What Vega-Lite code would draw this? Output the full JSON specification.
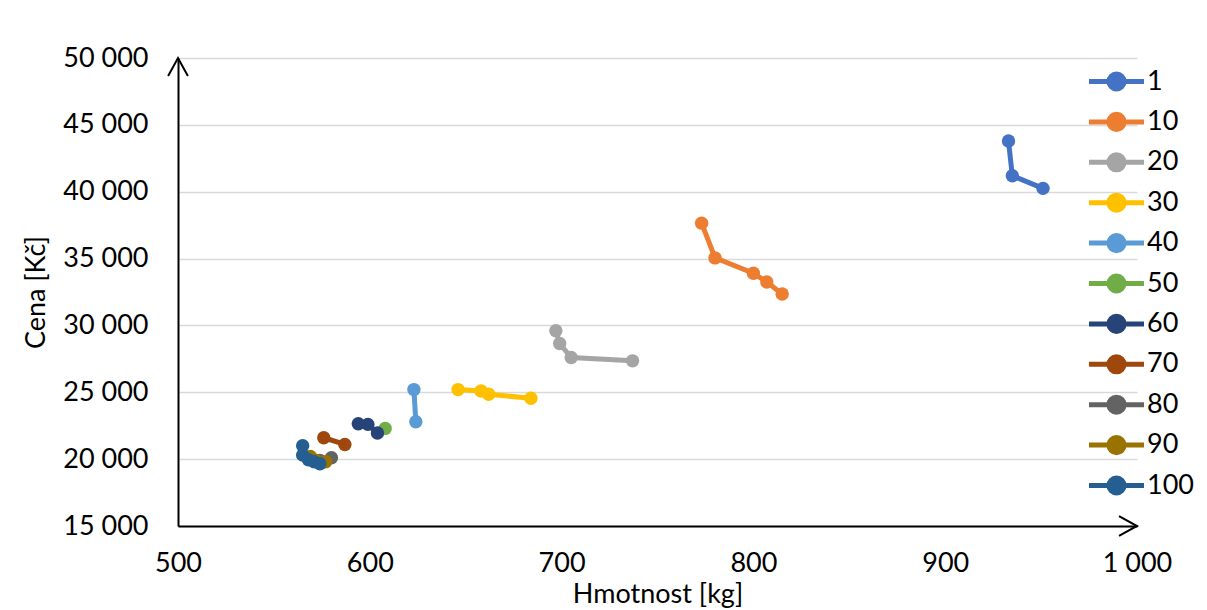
{
  "$schema": "https://vega.github.io/schema/vega-lite/v6.json",
  "width": 959,
  "height": 468,
  "autosize": "none",
  "padding": {"left": 178, "top": 58, "right": 70, "bottom": 84},
  "background": "white",
  "config": {
    "locale": {"number": {"decimal": ",", "thousands": " ", "grouping": [3], "currency": ["", " Kč"]}},
    "font": "Lato",
    "view": {"stroke": null},
    "axis": {"labelFont": "Lato", "titleFont": "Lato", "labelColor": "#000000", "titleColor": "#000000", "titleFontWeight": "normal", "labelFontSize": 27, "titleFontSize": 27, "ticks": false, "labelFlush": false, "labelOverlap": false},
    "legend": {"labelFont": "Lato", "labelFontSize": 27, "labelColor": "#000000"}
  },
  "datasets": {
    "pts": [
      {"s": "1", "i": 1, "kg": 933, "cena": 43800},
      {"s": "1", "i": 2, "kg": 935, "cena": 41200},
      {"s": "1", "i": 3, "kg": 951, "cena": 40250},
      {"s": "10", "i": 1, "kg": 773, "cena": 37650},
      {"s": "10", "i": 2, "kg": 780, "cena": 35050},
      {"s": "10", "i": 3, "kg": 800, "cena": 33900},
      {"s": "10", "i": 4, "kg": 807, "cena": 33250},
      {"s": "10", "i": 5, "kg": 815, "cena": 32350},
      {"s": "20", "i": 1, "kg": 697, "cena": 29600},
      {"s": "20", "i": 2, "kg": 699, "cena": 28650},
      {"s": "20", "i": 3, "kg": 705, "cena": 27600},
      {"s": "20", "i": 4, "kg": 737, "cena": 27350},
      {"s": "30", "i": 1, "kg": 646, "cena": 25200},
      {"s": "30", "i": 2, "kg": 658, "cena": 25100},
      {"s": "30", "i": 3, "kg": 662, "cena": 24850},
      {"s": "30", "i": 4, "kg": 684, "cena": 24550},
      {"s": "40", "i": 1, "kg": 623, "cena": 25200},
      {"s": "40", "i": 2, "kg": 624, "cena": 22800},
      {"s": "50", "i": 1, "kg": 608, "cena": 22300},
      {"s": "60", "i": 1, "kg": 594, "cena": 22650},
      {"s": "60", "i": 2, "kg": 599, "cena": 22600},
      {"s": "60", "i": 3, "kg": 604, "cena": 21950},
      {"s": "70", "i": 1, "kg": 576, "cena": 21600},
      {"s": "70", "i": 2, "kg": 587, "cena": 21100},
      {"s": "80", "i": 1, "kg": 574, "cena": 19900},
      {"s": "80", "i": 2, "kg": 580, "cena": 20100},
      {"s": "90", "i": 1, "kg": 569, "cena": 20200},
      {"s": "90", "i": 2, "kg": 572, "cena": 19900},
      {"s": "90", "i": 3, "kg": 577, "cena": 19800},
      {"s": "100", "i": 1, "kg": 565, "cena": 21000},
      {"s": "100", "i": 2, "kg": 565, "cena": 20300},
      {"s": "100", "i": 3, "kg": 568, "cena": 19950},
      {"s": "100", "i": 4, "kg": 571, "cena": 19800},
      {"s": "100", "i": 5, "kg": 574, "cena": 19650}
    ],
    "upArrow": [{"kg": 500, "cena": 50000}],
    "rightArrow": [{"kg": 1000, "cena": 15000}]
  },
  "encoding": {
    "x": {"field": "kg", "type": "quantitative",
      "scale": {"domain": [500, 1000], "nice": false, "zero": false},
      "axis": {"title": "Hmotnost [kg]", "values": [500, 600, 700, 800, 900, 1000], "format": ",d", "grid": false, "domainColor": "#000000", "domainWidth": 2, "labelPadding": 24, "titlePadding": 5}},
    "y": {"field": "cena", "type": "quantitative",
      "scale": {"domain": [15000, 50000], "nice": false, "zero": false},
      "axis": {"title": "Cena [Kč]", "values": [15000, 20000, 25000, 30000, 35000, 40000, 45000, 50000], "format": ",d", "grid": true, "gridColor": "#D9D9D9", "gridWidth": 1.5, "domainColor": "#000000", "domainWidth": 2, "labelPadding": 30, "titlePadding": 12}}
  },
  "layer": [
    {
      "data": {"name": "pts"},
      "mark": {"type": "line", "strokeWidth": 5},
      "encoding": {
        "color": {"field": "s", "type": "nominal",
          "scale": {"domain": ["1", "10", "20", "30", "40", "50", "60", "70", "80", "90", "100"],
            "range": ["#4472C4", "#ED7D31", "#A5A5A5", "#FFC000", "#5B9BD5", "#70AD47", "#264478", "#9E480E", "#636363", "#997300", "#255E91"]},
          "legend": {"title": null, "orient": "none", "legendX": 922, "legendY": 7,
            "symbolType": "M-2,0 L2,0 M-0.55,0 A0.55,0.55 0 1,1 0.55,0 A0.55,0.55 0 1,1 -0.55,0 Z",
            "symbolSize": 756, "symbolStrokeWidth": 5, "labelOffset": 14, "rowPadding": 3.4,
            "encode": {"symbols": {"update": {"fill": {"scale": "color", "field": "value"}, "fillOpacity": {"value": 1}}}}}},
        "order": {"field": "i", "type": "quantitative"}
      }
    },
    {
      "data": {"name": "pts"},
      "mark": {"type": "point", "filled": true, "size": 180, "opacity": 1},
      "encoding": {
        "color": {"field": "s", "type": "nominal", "legend": null}
      }
    },
    {
      "data": {"name": "upArrow"},
      "mark": {"type": "point", "filled": false, "shape": "M-0.55,1 L0,0 L0.55,1", "size": 1296, "stroke": "#000000", "strokeWidth": 2, "opacity": 1},
      "encoding": {}
    },
    {
      "data": {"name": "rightArrow"},
      "mark": {"type": "point", "filled": false, "shape": "M-1,-0.55 L0,0 L-1,0.55", "size": 1296, "stroke": "#000000", "strokeWidth": 2, "opacity": 1},
      "encoding": {}
    }
  ]
}
